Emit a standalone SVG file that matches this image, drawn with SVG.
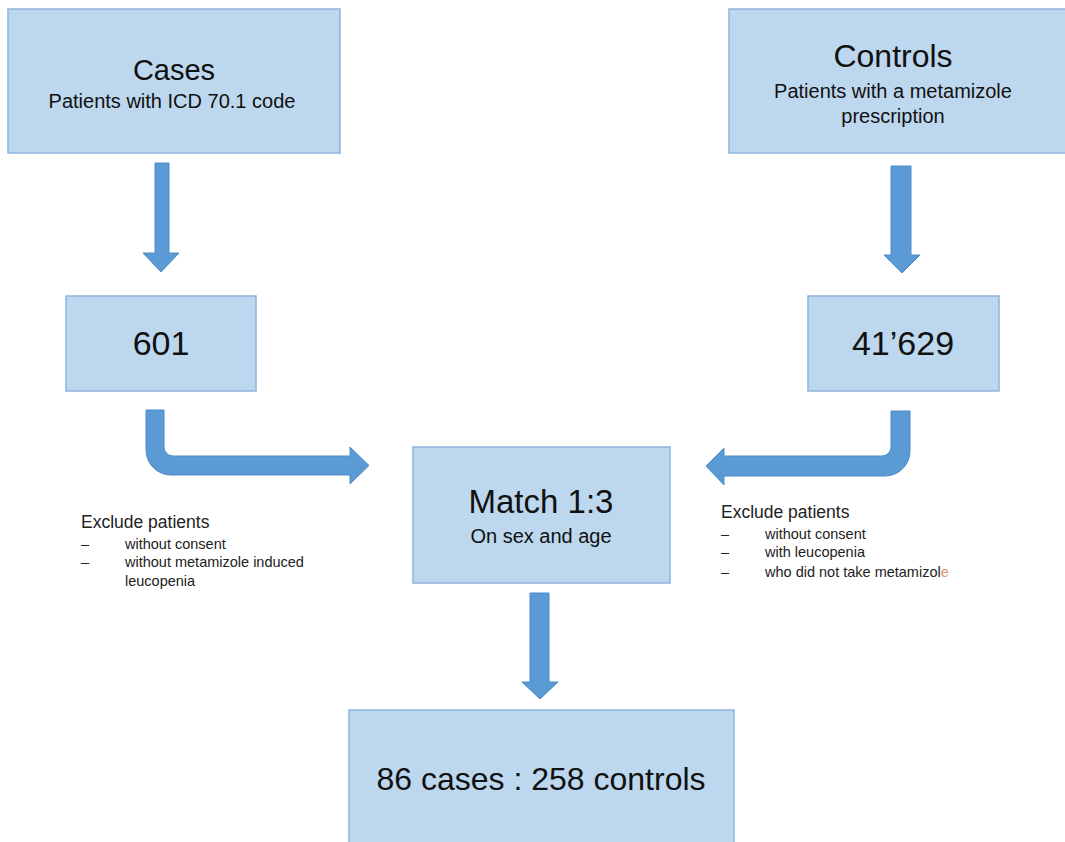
<svg xmlns="http://www.w3.org/2000/svg" width="1065" height="842" viewBox="0 0 1065 842">
<style>
.box{fill:#bdd7ee;stroke:#8eb4e0;stroke-width:1.5}
.arr{fill:#5b9bd5;stroke:#4f8bc6;stroke-width:1}
text{font-family:"Liberation Sans",Arial,sans-serif;fill:#111}
.c{text-anchor:middle}
.note{font-size:14.5px;fill:#222}
.head{font-size:17.5px;fill:#222}
</style>
<rect width="1065" height="842" fill="#ffffff"/>
<g id="cases">
<rect class="box" x="8" y="9" width="332" height="144"/>
<text class="c" x="174" y="80" font-size="29">Cases</text>
<text class="c" x="172" y="108" font-size="20">Patients with ICD 70.1 code</text>
</g>
<g id="controls">
<rect class="box" x="729" y="9" width="345" height="144"/>
<text class="c" x="893" y="67" font-size="32">Controls</text>
<text class="c" x="893" y="98" font-size="20">Patients with a metamizole</text>
<text class="c" x="893" y="123" font-size="20">prescription</text>
</g>
<g id="n601">
<rect class="box" x="66" y="296" width="190" height="95"/>
<text class="c" x="161" y="355" font-size="34">601</text>
</g>
<g id="n41629">
<rect class="box" x="808" y="296" width="191" height="95"/>
<text class="c" x="903" y="355" font-size="34">41’629</text>
</g>
<g id="match">
<rect class="box" x="413" y="447" width="257" height="136"/>
<text class="c" x="541" y="513" font-size="33">Match 1:3</text>
<text class="c" x="541" y="543" font-size="20">On sex and age</text>
</g>
<g id="result">
<rect class="box" x="349" y="710" width="385" height="140"/>
<text class="c" x="541" y="790" font-size="32">86 cases : 258 controls</text>
</g>
<g id="exclude-left">
<text class="head" x="81" y="528">Exclude patients</text>
<text class="note" x="81" y="549">–</text>
<text class="note" x="125" y="549">without consent</text>
<text class="note" x="81" y="567">–</text>
<text class="note" x="125" y="567">without metamizole induced</text>
<text class="note" x="125" y="586">leucopenia</text>
</g>
<g id="exclude-right">
<text class="head" x="721" y="518">Exclude patients</text>
<text class="note" x="721" y="539">–</text>
<text class="note" x="765" y="539">without consent</text>
<text class="note" x="721" y="557">–</text>
<text class="note" x="765" y="557">with leucopenia</text>
<text class="note" x="721" y="577">–</text>
<text class="note" x="765" y="577">who did not take metamizol<tspan fill="#e0925e">e</tspan></text>
</g>
<g id="connectors">
<path class="arr" d="M155,163 L169,163 L169,253 L179,253 L161,272 L143,253 L155,253 Z"/>
<path class="arr" d="M891,166 L911,166 L911,255 L920,255 L902,273 L884,255 L891,255 Z"/>
<path class="arr" d="M146,410 L146,450 A25,25 0 0 0 171,475 L350,475 L350,484 L369,465.5 L350,447 L350,456 L173,456 A9,9 0 0 1 164,447 L164,410 Z"/>
<path class="arr" d="M910,411 L910,451 A25,25 0 0 1 885,476 L724,476 L724,485 L706,466 L724,448 L724,456 L882,456 A9,9 0 0 0 891,447 L891,411 Z"/>
<path class="arr" d="M530,593 L549,593 L549,682 L558,682 L540,699 L522,682 L530,682 Z"/>
</g>
</svg>
